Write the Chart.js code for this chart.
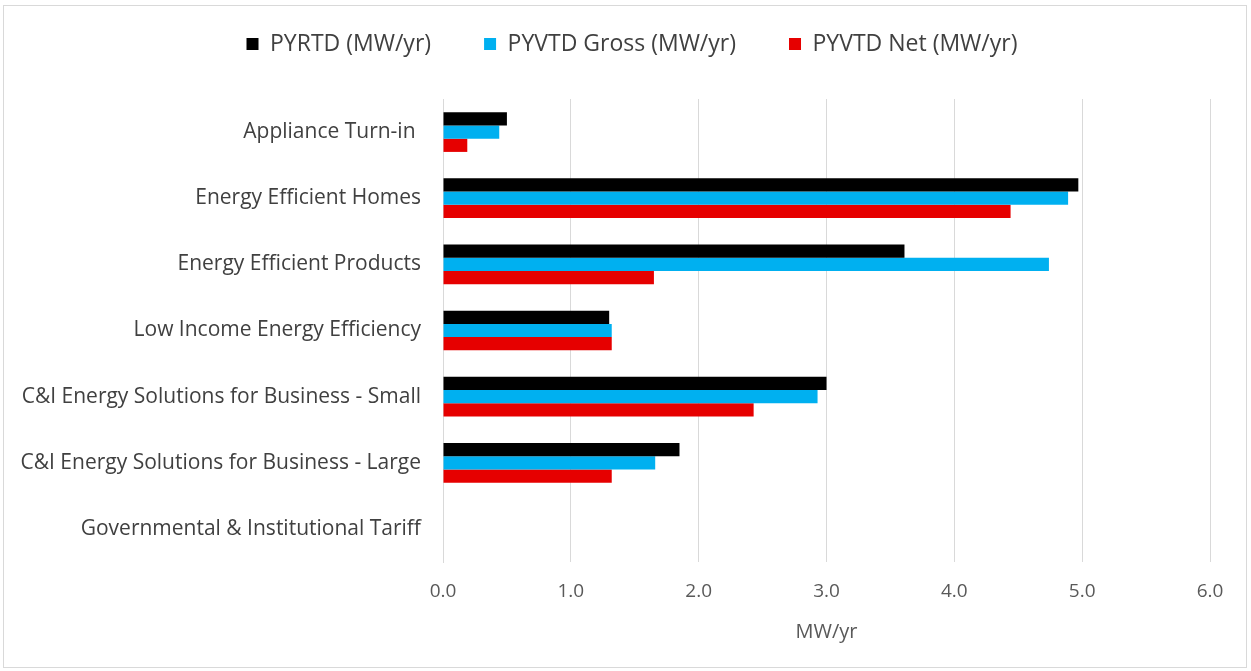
<!DOCTYPE html>
<html>
<head>
<meta charset="utf-8">
<script src="https://cdn.jsdelivr.net/npm/chart.js@4"></script>
<style>
  body { margin: 0; background: #fff; }
  #wrap { position: relative; width: 1251px; height: 671px; }
  #frame { position: absolute; left: 3px; top: 5px; width: 1242px; height: 661px; border: 1px solid #d9d9d9; pointer-events: none; }
</style>
</head>
<body>
<div id="wrap">
  <canvas id="chart" width="1251" height="671"></canvas>
  <div id="frame"></div>
</div>
<script>
let categories = [
  "Appliance Turn-in ",
  "Energy Efficient Homes",
  "Energy Efficient Products",
  "Low Income Energy Efficiency",
  "C&I Energy Solutions for Business - Small",
  "C&I Energy Solutions for Business - Large",
  "Governmental & Institutional Tariff"
];
let pyrtd = [0.50, 4.97, 3.61, 1.30, 3.00, 1.85, 0];
let pyvtdGross = [0.44, 4.89, 4.74, 1.32, 2.93, 1.66, 0];
let pyvtdNet = [0.19, 4.44, 1.65, 1.32, 2.43, 1.32, 0];
let xTicks = [0, 1, 2, 3, 4, 5, 6];

let fontName = "'Open Sans', sans-serif";
let legendPad = 53;
let legendFont = 23;

// move the legend row up to where the reference has it
const legendShift = {
  id: "legendShift",
  afterLayout(chart) {
    let lg = chart.legend;
    let h = lg.bottom - lg.top;
    lg.top = 44 - legendPad - legendFont / 2;
    lg.bottom = lg.top + h;
    let w = lg.right - lg.left;
    lg.left = 27;
    lg.right = lg.left + w;
  }
};

let ctx = document.getElementById("chart").getContext("2d");

let chart = new Chart(ctx, {
  type: "bar",
  data: {
    labels: categories,
    datasets: [
      { label: "PYRTD (MW/yr)", data: pyrtd, backgroundColor: "#000000" },
      { label: "PYVTD Gross (MW/yr)", data: pyvtdGross, backgroundColor: "#00B0F0" },
      { label: "PYVTD Net (MW/yr)", data: pyvtdNet, backgroundColor: "#E60000" }
    ]
  },
  options: {
    indexAxis: "y",
    responsive: false,
    animation: false,
    datasets: {
      bar: { categoryPercentage: 0.6, barPercentage: 1.0 }
    },
    layout: { padding: { top: 13, left: 0, right: 41, bottom: 23 } },
    plugins: {
      legend: {
        position: "top",
        labels: {
          boxWidth: 12,
          boxHeight: 12,
          padding: legendPad,
          color: "#404040",
          font: { family: fontName, size: legendFont }
        }
      },
      tooltip: { enabled: false }
    },
    scales: {
      x: {
        min: 0,
        max: 6,
        afterBuildTicks: (scale) => {
          scale.ticks = xTicks.map(v => ({ value: v }));
        },
        afterFit: (scale) => { scale.height = 86; },
        grid: { color: "#d9d9d9", drawTicks: false },
        border: { display: false },
        ticks: {
          padding: 18,
          color: "#595959",
          font: { family: fontName, size: 19 },
          callback: (v) => Number(v).toFixed(1)
        },
        title: {
          display: true,
          text: "MW/yr",
          color: "#595959",
          font: { family: fontName, size: 20 },
          padding: { top: 0, bottom: 4 }
        }
      },
      y: {
        afterFit: (scale) => { scale.width = 443; },
        grid: { display: false },
        border: { display: true, color: "#d9d9d9" },
        ticks: {
          padding: 14,
          color: "#404040",
          font: { family: fontName, size: 21 }
        }
      }
    }
  },
  plugins: [legendShift]
});
</script>
</body>
</html>
